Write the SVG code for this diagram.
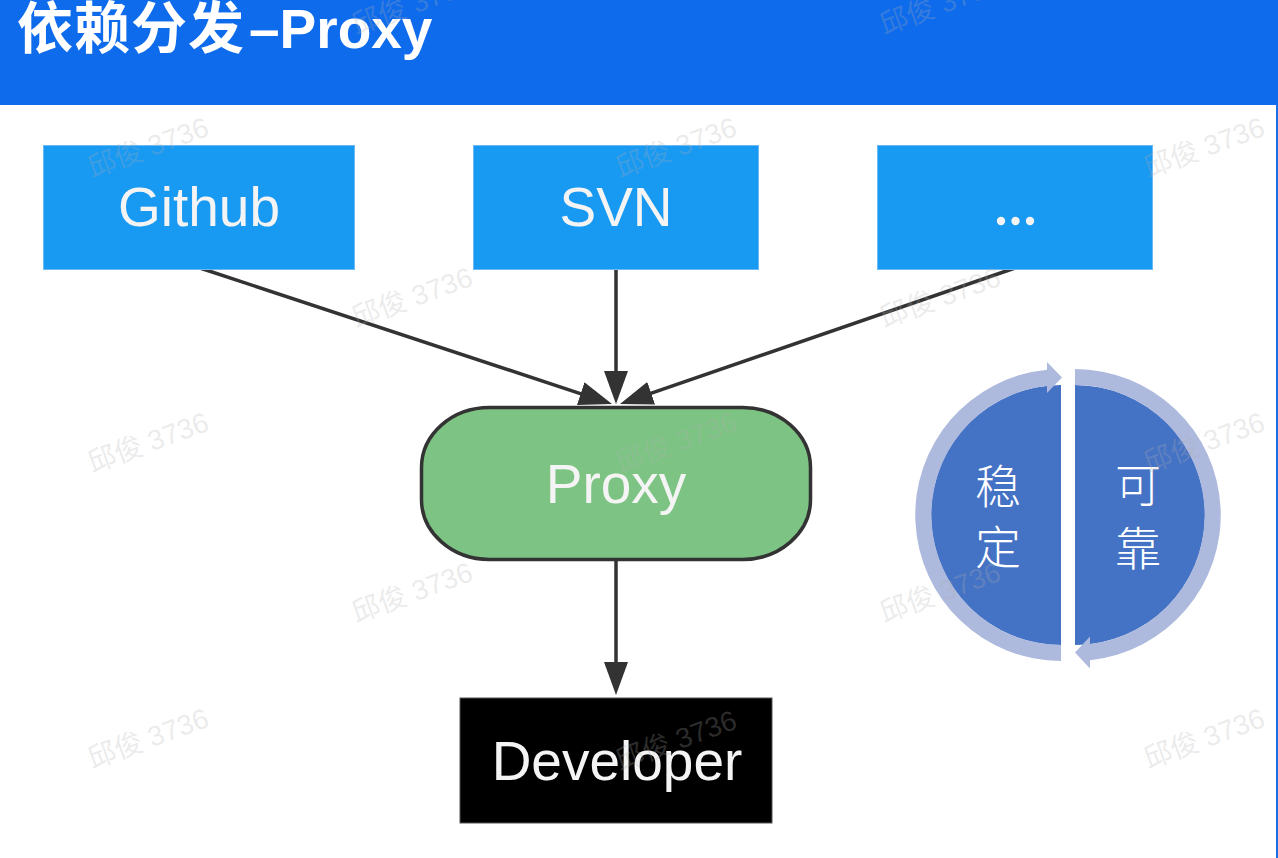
<svg xmlns="http://www.w3.org/2000/svg" width="1278" height="858" viewBox="0 0 1278 858">
<defs>
<style>
.box{fill:#1899f2;stroke:#6bb9f2;stroke-width:1}
.lbl{font-family:"Liberation Sans","Noto Sans CJK SC",sans-serif;font-size:55px;fill:#f4f4f4;text-anchor:middle}
.conn{stroke:#333333;stroke-width:3.5;fill:none;marker-end:url(#arr)}
.cjk{font-family:"Noto Sans CJK SC",sans-serif;font-size:46px;fill:#ffffff;text-anchor:middle;font-weight:300}
.wm{font-family:"Liberation Sans","Noto Sans CJK SC",sans-serif;font-size:28px;fill:#b0b0b0;fill-opacity:0.25;text-anchor:middle}
.ring{fill:#adb9dd}
.half{fill:#4472c4}
.title{font-family:"Liberation Sans","Noto Sans CJK SC",sans-serif;font-weight:bold;fill:#ffffff}
</style>
<marker id="arr" markerUnits="userSpaceOnUse" viewBox="0 0 33 24" markerWidth="33" markerHeight="24" refX="2" refY="12" orient="auto">
<path d="M0,0 L33,12 L0,24 z" fill="#333333"/>
</marker>
</defs>
<rect x="0" y="0" width="1278" height="858" fill="#ffffff"/>
<g id="header">
<rect x="0" y="0" width="1278" height="105" fill="#0e6beb"/>
<rect x="1276" y="105" width="2" height="753" fill="#1a6ee8"/>
<text class="title" x="17" y="48" font-size="56"><tspan letter-spacing="1">依赖分发</tspan><tspan x="249" font-size="55">–Proxy</tspan></text>
</g>
<g id="connectors">
<line class="conn" x1="200" y1="268" x2="582.6" y2="394.3"/>
<line class="conn" x1="616" y1="270" x2="616" y2="373"/>
<line class="conn" x1="1015" y1="268" x2="649.3" y2="393.9"/>
<line class="conn" x1="616" y1="561" x2="616" y2="664"/>
</g>
<g id="github">
<rect class="box" x="43.5" y="145.5" width="311" height="124"/>
<text class="lbl" x="199" y="226">Github</text>
</g>
<g id="svn">
<rect class="box" x="473.5" y="145.5" width="285" height="124"/>
<text class="lbl" x="616" y="226">SVN</text>
</g>
<g id="more">
<rect class="box" x="877.5" y="145.5" width="275" height="124"/>
<circle cx="1001" cy="221" r="4.2" fill="#f4f4f4"/>
<circle cx="1015.5" cy="221" r="4.2" fill="#f4f4f4"/>
<circle cx="1030" cy="221" r="4.2" fill="#f4f4f4"/>
</g>
<g id="proxy">
<rect x="421.5" y="407.5" width="389" height="152" rx="68" ry="60" fill="#7dc484" stroke="#333333" stroke-width="3.5"/>
<text class="lbl" x="616" y="503" font-size="56">Proxy</text>
</g>
<g id="developer">
<rect x="460" y="698" width="312" height="125" fill="#000000" stroke="#555555" stroke-width="1"/>
<text class="lbl" x="617" y="780">Developer</text>
</g>
<g id="cycle">
<path class="half" d="M1061,385 A130,130 0 0 0 1061,645 Z"/>
<path class="half" d="M1075,385 A130,130 0 0 1 1075,645 Z"/>
<path class="ring" d="M1061,661 A146,146 0 0 1 1047,369.7 L1047,362 L1062,377.5 L1047,393 L1047,385.8 A130,130 0 0 0 1061,645 Z"/>
<path class="ring" d="M1075,369 A146,146 0 0 1 1090,660.2 L1090,668.5 L1075,652.5 L1090,636.5 L1090,644.1 A130,130 0 0 0 1075,385 Z"/>
<text class="cjk" x="998" y="503">稳</text>
<text class="cjk" x="998" y="564">定</text>
<text class="cjk" x="1138" y="502">可</text>
<text class="cjk" x="1138" y="565">靠</text>
</g>
<g id="watermarks">
<text class="wm" x="412" y="14" transform="rotate(-20 412 4)">邱俊 3736</text>
<text class="wm" x="940" y="14" transform="rotate(-20 940 4)">邱俊 3736</text>
<text class="wm" x="148" y="157" transform="rotate(-20 148 147)">邱俊 3736</text>
<text class="wm" x="676" y="157" transform="rotate(-20 676 147)">邱俊 3736</text>
<text class="wm" x="1204" y="157" transform="rotate(-20 1204 147)">邱俊 3736</text>
<text class="wm" x="412" y="307" transform="rotate(-20 412 297)">邱俊 3736</text>
<text class="wm" x="940" y="307" transform="rotate(-20 940 297)">邱俊 3736</text>
<text class="wm" x="148" y="452" transform="rotate(-20 148 442)">邱俊 3736</text>
<text class="wm" x="676" y="452" transform="rotate(-20 676 442)">邱俊 3736</text>
<text class="wm" x="1204" y="452" transform="rotate(-20 1204 442)">邱俊 3736</text>
<text class="wm" x="412" y="602" transform="rotate(-20 412 592)">邱俊 3736</text>
<text class="wm" x="940" y="602" transform="rotate(-20 940 592)">邱俊 3736</text>
<text class="wm" x="148" y="748" transform="rotate(-20 148 738)">邱俊 3736</text>
<text class="wm" x="676" y="750" transform="rotate(-20 676 740)">邱俊 3736</text>
<text class="wm" x="1204" y="748" transform="rotate(-20 1204 738)">邱俊 3736</text>
</g>
</svg>
